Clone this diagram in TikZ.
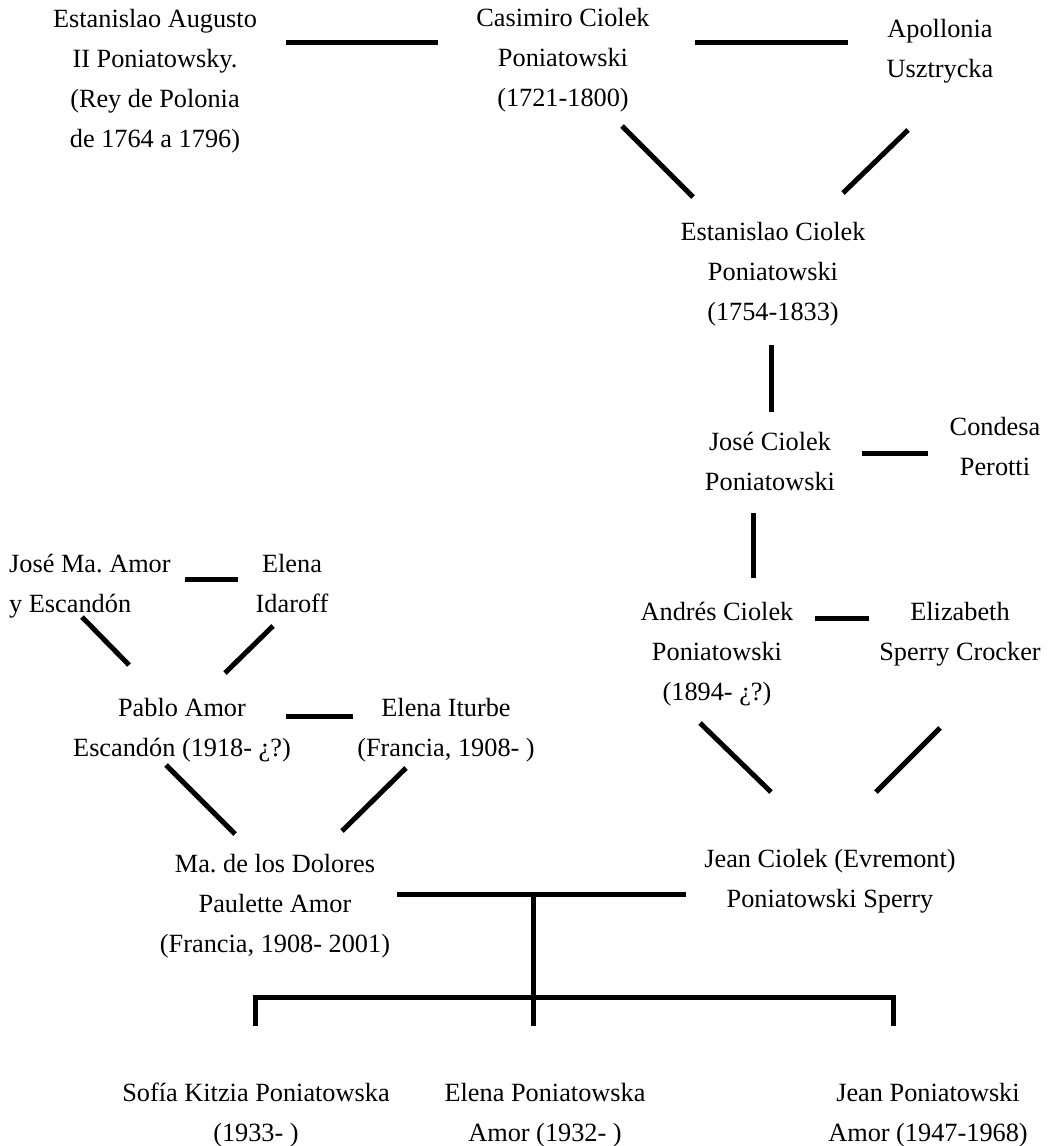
\documentclass[tikz,border=0pt]{standalone}
\usepackage{fontspec}
\setmainfont{Liberation Serif}
\frenchspacing
\begin{document}
\begin{tikzpicture}[x=1pt,y=-1pt,
  txt/.style={font=\fontsize{26.3}{40}\selectfont\frenchspacing, align=center, inner sep=0pt, anchor=north},
  txtl/.style={txt, align=left, anchor=north west},
  link/.style={line width=5pt, line cap=butt}]
\useasboundingbox (0,0) rectangle (1050,1146);

% people
\node[txt] (ea) at (155,-1) {\strut Estanislao Augusto\\\strut II Poniatowsky.\\\strut (Rey de Polonia\\\strut de 1764 a 1796)};
\node[txt] (cas) at (563,-2) {\strut Casimiro Ciolek\\\strut Poniatowski\\\strut (1721-1800)};
\node[txt] (apo) at (940,9) {\strut Apollonia\\\strut Usztrycka};
\node[txt] (est) at (773,212) {\strut Estanislao Ciolek\\\strut Poniatowski\\\strut (1754-1833)};
\node[txt] (jose) at (770,422) {\strut José Ciolek\\\strut Poniatowski};
\node[txt] (cond) at (995,407) {\strut Condesa\\\strut Perotti};
\node[txt] (andres) at (717,592) {\strut Andrés Ciolek\\\strut Poniatowski\\\strut (1894- ¿?)};
\node[txt] (eliz) at (960,592) {\strut Elizabeth\\\strut Sperry Crocker};
\node[txt] (jean) at (830,839) {\strut Jean Ciolek (Evremont)\\\strut Poniatowski Sperry};
\node[txtl] (jma) at (9,544) {\strut José Ma. Amor\\\strut y Escandón};
\node[txt] (elid) at (292,544) {\strut Elena\\\strut Idaroff};
\node[txt] (pablo) at (182,688) {\strut Pablo Amor\\\strut Escandón (1918- ¿?)};
\node[txt] (eit) at (446,688) {\strut Elena Iturbe\\\strut (Francia, 1908- )};
\node[txt] (mad) at (275,844) {\strut Ma. de los Dolores\\\strut Paulette Amor\\\strut (Francia, 1908- 2001)};
\node[txt] (sofia) at (256,1073) {\strut Sofía Kitzia Poniatowska\\\strut (1933- )};
\node[txt] (elenap) at (545,1073) {\strut Elena Poniatowska\\\strut Amor (1932- )};
\node[txt] (jeanp) at (928,1073) {\strut Jean Poniatowski\\\strut Amor (1947-1968)};

% connector end points
\coordinate (l1a) at (286,42);  \coordinate (l1b) at (438,42);
\coordinate (l2a) at (695,42);  \coordinate (l2b) at (848,42);
\coordinate (d1a) at (622,126); \coordinate (d1b) at (693,197);
\coordinate (d2a) at (908,130); \coordinate (d2b) at (843,193);
\coordinate (v1a) at (771,345); \coordinate (v1b) at (771,412);
\coordinate (h3a) at (862,453); \coordinate (h3b) at (928,453);
\coordinate (v2a) at (753,513); \coordinate (v2b) at (753,578);
\coordinate (h4a) at (815,618); \coordinate (h4b) at (869,618);
\coordinate (d3a) at (700,723); \coordinate (d3b) at (771,792);
\coordinate (d4a) at (940,728); \coordinate (d4b) at (876,792);
\coordinate (h5a) at (185,579); \coordinate (h5b) at (238,579);
\coordinate (d5a) at (82,617);  \coordinate (d5b) at (129,665);
\coordinate (d6a) at (273,626); \coordinate (d6b) at (225,673);
\coordinate (h6a) at (286,716); \coordinate (h6b) at (353,716);
\coordinate (d7a) at (166,765); \coordinate (d7b) at (235,834);
\coordinate (d8a) at (406,768); \coordinate (d8b) at (342,831);
\coordinate (h7a) at (397,894); \coordinate (h7b) at (686,894);
\coordinate (h7m) at (533,894);
\coordinate (h8a) at (255,997); \coordinate (h8m) at (533,997); \coordinate (h8b) at (893,997);
\coordinate (c1) at (255,1026); \coordinate (c2) at (533,1026); \coordinate (c3) at (893,1026);

% connectors
\draw[link] (l1a) -- (l1b);
\draw[link] (l2a) -- (l2b);
\draw[link] (d1a) -- (d1b);
\draw[link] (d2a) -- (d2b);
\draw[link] (v1a) -- (v1b);
\draw[link] (h3a) -- (h3b);
\draw[link] (v2a) -- (v2b);
\draw[link] (h4a) -- (h4b);
\draw[link] (d3a) -- (d3b);
\draw[link] (d4a) -- (d4b);
\draw[link] (h5a) -- (h5b);
\draw[link] (d5a) -- (d5b);
\draw[link] (d6a) -- (d6b);
\draw[link] (h6a) -- (h6b);
\draw[link] (d7a) -- (d7b);
\draw[link] (d8a) -- (d8b);
\draw[link] (h7a) -- (h7b);
\draw[link] (h7m) -- (h8m);
\draw[link, line join=miter] (c1) -- (h8a) -- (h8b) -- (c3);
\draw[link] (h8m) -- (c2);
\end{tikzpicture}
\end{document}
